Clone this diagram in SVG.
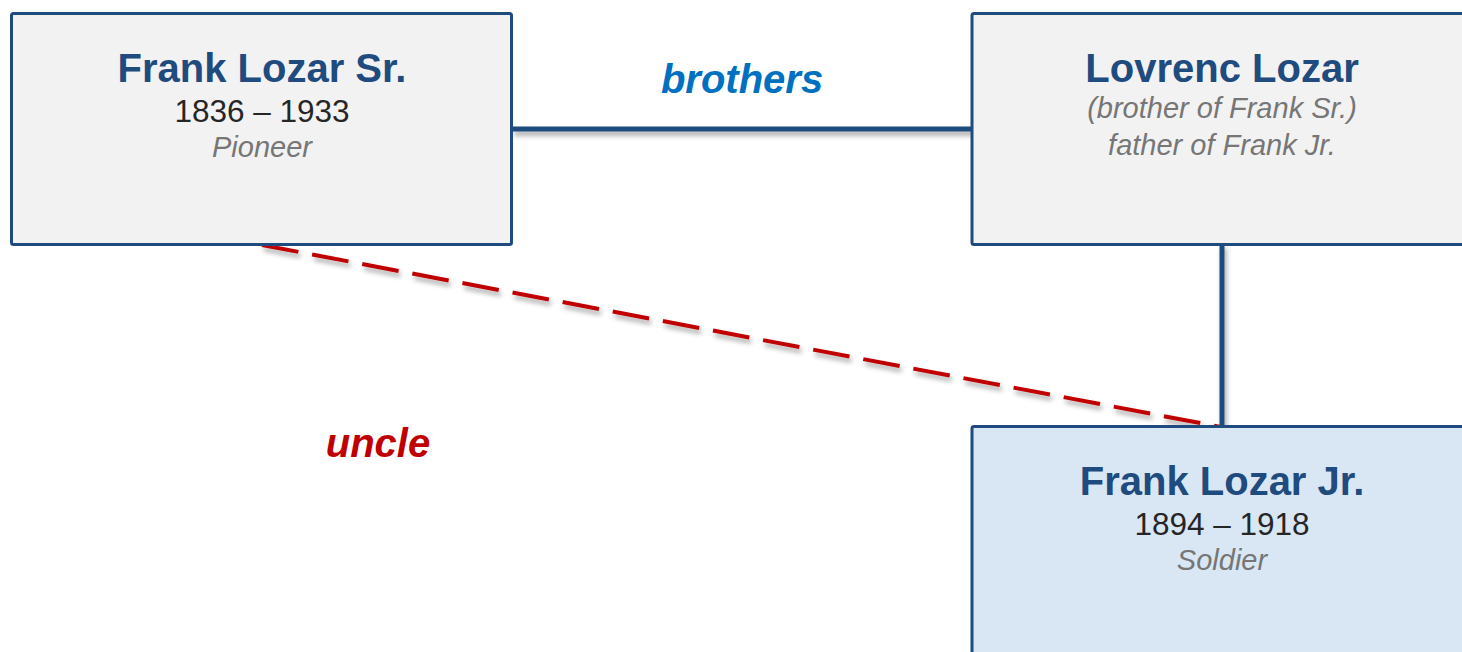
<svg xmlns="http://www.w3.org/2000/svg" width="1462" height="652" viewBox="0 0 1462 652">
<defs>
<filter id="sh" x="-10%" y="-50%" width="120%" height="200%">
<feDropShadow dx="2" dy="4" stdDeviation="2.5" flood-color="#000" flood-opacity="0.35"/>
</filter>
<style>
.box{fill:#F2F2F2;stroke:#1F4B7E;stroke-width:3}
.boxj{fill:#D9E7F5;stroke:#1F4B7E;stroke-width:3}
.title{font-family:"Liberation Sans",Arial,sans-serif;font-weight:bold;font-size:40px;fill:#1F4B7E;text-anchor:middle}
.dates{font-family:"Liberation Sans",Arial,sans-serif;font-size:31.5px;fill:#262626;text-anchor:middle}
.sub{font-family:"Liberation Sans",Arial,sans-serif;font-style:italic;font-size:29px;fill:#767676;text-anchor:middle}
.lbl{font-family:"Liberation Sans",Arial,sans-serif;font-style:italic;font-weight:bold;font-size:40px;text-anchor:middle}
.solid{stroke:#1F4B7E;stroke-width:5;fill:none}
.dash{stroke:#C00000;stroke-width:4;stroke-dasharray:37 14;fill:none}
</style>
</defs>
<rect width="1462" height="652" fill="#FFFFFF"/>
<g id="connectors" filter="url(#sh)">
<line class="solid" x1="512" y1="129" x2="972" y2="129"/>
<line class="solid" x1="1222" y1="244" x2="1222" y2="426"/>
<line class="dash" x1="262" y1="245" x2="1221" y2="427"/>
</g>
<g id="labels">
<text class="lbl" x="742" y="93" fill="#0070C0">brothers</text>
<text class="lbl" x="378" y="457" fill="#C00000">uncle</text>
</g>
<g id="frank-sr">
<rect class="box" x="11.5" y="13.5" width="500" height="231" rx="2"/>
<text class="title" x="262" y="82">Frank Lozar Sr.</text>
<text class="dates" x="262" y="122">1836 – 1933</text>
<text class="sub" x="262" y="157">Pioneer</text>
</g>
<g id="lovrenc">
<rect class="box" x="972" y="13.5" width="500" height="231" rx="2"/>
<text class="title" x="1222" y="82">Lovrenc Lozar</text>
<text class="sub" x="1222" y="118">(brother of Frank Sr.)</text>
<text class="sub" x="1222" y="155">father of Frank Jr.</text>
</g>
<g id="frank-jr">
<rect class="boxj" x="972" y="426.5" width="500" height="240" rx="2"/>
<text class="title" x="1222" y="495">Frank Lozar Jr.</text>
<text class="dates" x="1222" y="535">1894 – 1918</text>
<text class="sub" x="1222" y="570">Soldier</text>
</g>
</svg>
